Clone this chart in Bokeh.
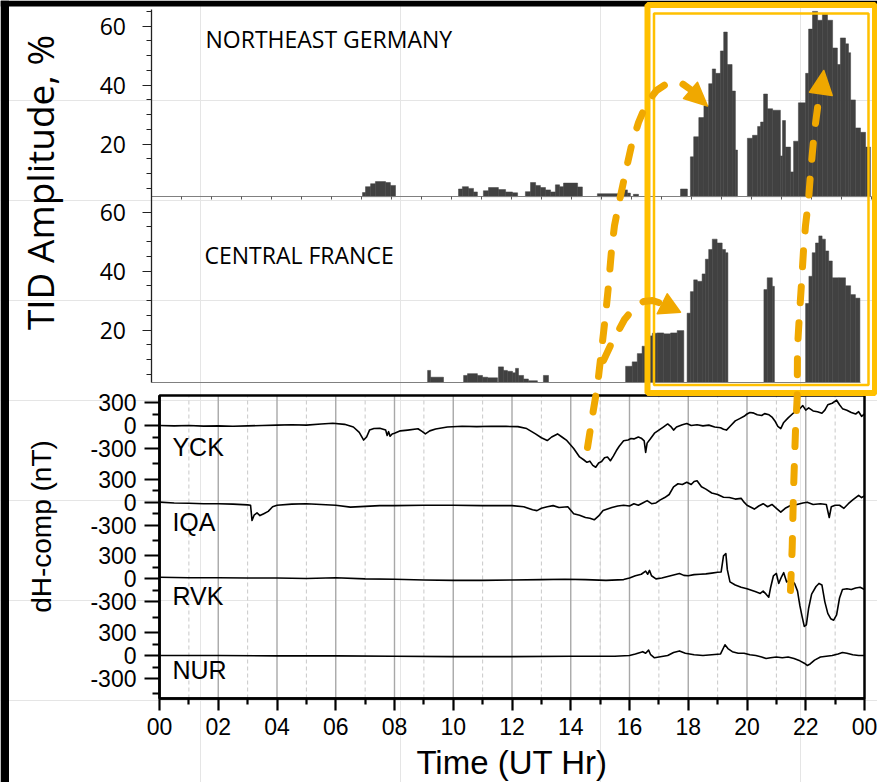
import numpy as np
from math import pi
from bokeh.plotting import figure
from bokeh.models import Range1d, LinearAxis, FixedTicker
from bokeh.embed import file_html
from bokeh.resources import INLINE
from bokeh.core.properties import value

# ---------------- data ----------------
STATIONS = ["YCK", "IQA", "RVK", "NUR"]
HOUR_TICKS = list(range(0, 25, 2))
HOUR_LABELS = ["00", "02", "04", "06", "08", "10", "12", "14", "16", "18", "20", "22", "00"]
TID_TICKS = [20, 40, 60]
TID_LABELS = ["20", "40", "60"]
DH_TICKS = [300, 0, -300]
DH_LABELS = ["300", "0", "-300"]
PANEL_TITLES = ["NORTHEAST GERMANY", "CENTRAL FRANCE"]

# TID amplitude (%) bars, Northeast Germany: start hour, end hour, value
GER_T0 = [7.05, 7.15, 7.32, 7.48, 7.82, 7.98,
          10.25, 10.38, 10.58, 10.75,
          11.08, 11.25, 11.58, 11.82, 12.05,
          12.48, 12.65, 12.82, 12.98, 13.15, 13.32, 13.48, 13.62, 13.75, 14.22,
          14.88, 15.72, 15.88, 16.08, 17.65,
          17.98, 18.09, 18.26, 18.43, 18.59, 18.71, 18.82, 18.98, 19.09, 19.21, 19.37, 19.48,
          19.88, 20.05, 20.22, 20.32, 20.42, 20.55, 20.72, 20.98, 21.05, 21.15, 21.32, 21.42,
          21.58, 21.82, 21.92, 22.05, 22.22, 22.38, 22.55, 22.72, 22.88, 22.98, 23.15, 23.25,
          23.32, 23.48, 23.65, 23.82]
GER_T1 = [7.15, 7.32, 7.48, 7.82, 7.98, 8.15,
          10.38, 10.58, 10.75, 10.88,
          11.25, 11.58, 11.82, 12.05, 12.22,
          12.65, 12.82, 12.98, 13.15, 13.32, 13.48, 13.62, 13.75, 14.22, 14.38,
          15.72, 15.88, 15.98, 16.25, 17.88,
          18.09, 18.26, 18.43, 18.59, 18.71, 18.82, 18.98, 19.09, 19.21, 19.37, 19.48, 19.55,
          20.05, 20.22, 20.32, 20.42, 20.55, 20.72, 20.98, 21.05, 21.15, 21.32, 21.42, 21.58,
          21.82, 21.92, 22.05, 22.22, 22.38, 22.55, 22.72, 22.88, 22.98, 23.15, 23.25, 23.32,
          23.48, 23.65, 23.82, 23.98]
GER_V = [3.6, 5.6, 6.6, 7.3, 7.0, 6.0,
         4.8, 5.6, 5.0, 3.8,
         4.2, 5.3, 4.6, 3.8, 3.5,
         3.9, 7.0, 6.0, 5.3, 4.5, 3.8, 6.2, 5.6, 6.8, 5.5,
         3.2, 4.5, 3.4, 3.0, 4.8,
         15.7, 22.5, 29, 33, 40.5, 45.5, 44, 51.6, 58, 47, 38, 18,
         22, 23, 26, 27.5, 37, 32, 31.5, 16, 28, 19, 10.6, 21,
         34, 44, 59, 65, 62, 64, 62, 52.6, 47, 56, 54, 51,
         35, 25.5, 24, 19]

# TID amplitude (%) bars, Central France
FRA_T0 = [9.22, 9.32, 10.42, 10.55, 10.88, 11.05, 11.22, 11.58, 11.75, 11.88, 12.05, 12.15,
          12.25, 12.42, 12.58, 13.08,
          15.82, 16.04, 16.21, 16.37, 16.54, 16.71, 16.87, 17.09, 17.32, 17.54,
          17.87, 17.98, 18.09, 18.21, 18.37, 18.48, 18.59, 18.71, 18.87, 19.04, 19.15,
          20.43, 20.54, 20.71,
          21.82, 21.93, 22.04, 22.15, 22.26, 22.37, 22.48, 22.59, 22.71, 22.93, 23.15, 23.32, 23.48]
FRA_T1 = [9.32, 9.75, 10.55, 10.88, 11.05, 11.22, 11.55, 11.75, 11.88, 12.05, 12.15, 12.25,
          12.42, 12.58, 12.88, 13.25,
          16.04, 16.21, 16.37, 16.54, 16.71, 16.87, 17.09, 17.32, 17.54, 17.76,
          17.98, 18.09, 18.21, 18.37, 18.48, 18.59, 18.71, 18.87, 19.04, 19.15, 19.23,
          20.54, 20.71, 20.78,
          21.93, 22.04, 22.15, 22.26, 22.37, 22.48, 22.59, 22.71, 22.93, 23.15, 23.32, 23.48, 23.63]
FRA_V = [6.3, 4.0, 4.6, 5.2, 4.6, 4.0, 3.8, 7.5, 6.3, 6.0, 5.5, 7.0, 4.6, 3.4, 2.8, 4.6,
         7.7, 9.2, 12, 14.5, 18.0, 18.9, 19.0, 18.7, 19.0, 19.8,
         25.7, 33, 37, 36.5, 39, 44, 47.3, 50.8, 49.5, 47.3, 46.2,
         33.7, 37.7, 34.8,
         29, 38.2, 46.2, 49.5, 51.9, 50.8, 46.8, 43.4, 37.7, 37.7, 35, 32, 30.8]

# magnetometer dH (nT): hour, value
YCK_T = [0.0, 0.5, 1.0, 1.5, 2.0, 2.5, 3.0, 3.5, 4.0, 4.5, 5.0, 5.5, 5.9, 6.3, 6.6, 6.8, 6.95,
         7.05, 7.15, 7.3, 7.5, 7.7, 7.75, 7.8, 7.85, 7.92, 8.0, 8.2, 8.45, 8.8, 8.95, 9.05, 9.2,
         9.4, 9.8, 10.3, 10.8, 11.3, 11.8, 12.2, 12.5, 12.8, 13.0, 13.2, 13.35, 13.55, 13.7,
         13.85, 14.1, 14.3, 14.45, 14.55, 14.65, 14.75, 14.85, 14.95, 15.05, 15.15, 15.25,
         15.35, 15.45, 15.55, 15.65, 15.8, 15.95, 16.05, 16.15, 16.3, 16.4, 16.5, 16.55, 16.6,
         16.7, 16.85, 17.0, 17.15, 17.3, 17.4, 17.5, 17.6, 17.8, 17.95, 18.1, 18.3, 18.5, 18.7,
         18.9, 19.1, 19.2, 19.3, 19.45, 19.6, 19.75, 19.9, 20.0, 20.1, 20.2, 20.35, 20.5, 20.6,
         20.75, 20.85, 20.95, 21.05, 21.15, 21.25, 21.4, 21.6, 21.75, 21.9, 22.0, 22.1, 22.25,
         22.4, 22.55, 22.65, 22.75, 22.9, 23.05, 23.15, 23.25, 23.4, 23.55, 23.7, 23.8, 23.9, 24.0]
YCK_DH = [0, -5, 0, -8, -5, -10, -5, 0, 5, 10, 5, 20, 30, 15, -20, -90, -190,
          -150, -60, -40, -35, -60, -130, -80, -140, -110, -100, -70, -60, -43, -80, -110, -70,
          -45, -20, -10, -15, -10, -12, -15, -40, -110, -160, -196, -150, -110, -150,
          -190, -300, -410, -450, -480, -465, -520, -545, -490, -470, -420, -410,
          -460, -400, -330, -270, -200, -190, -170, -175, -150, -165, -200, -350, -230,
          -180, -100, -60, -20, 20, -10, -60, -20, 10, 25, 0, 10, -5, 5,
          -20, -30, -50, -60, 0, 60, 90, 120, 150, 170, 165, 140, 130, 155,
          140, 110, 60, -10, -40, 40, 100, 170, 200, 260, 200, 230, 190,
          180, 160, 200, 270, 290, 330, 270, 220, 200, 170, 150, 180, 120, 150]

IQA_T = [0.0, 0.5, 1.0, 1.5, 2.0, 2.5, 3.0, 3.1, 3.15, 3.22, 3.32, 3.42, 3.55, 3.7, 3.85, 4.0,
         4.5, 5.0, 5.5, 6.0, 6.5, 7.0, 7.5, 8.0, 9.0, 10.0, 11.0, 12.0, 12.4, 12.7, 12.85, 13.0,
         13.2, 13.4, 13.6, 13.9, 14.1, 14.3, 14.5, 14.65, 14.8, 14.95, 15.1, 15.25, 15.4, 15.6,
         15.8, 16.0, 16.15, 16.3, 16.45, 16.6, 16.75, 16.9, 17.05, 17.2, 17.35, 17.5, 17.65,
         17.8, 17.95, 18.1, 18.2, 18.3, 18.45, 18.6, 18.8, 19.0, 19.2, 19.4, 19.6, 19.8, 19.9,
         20.0, 20.1, 20.25, 20.4, 20.55, 20.7, 20.85, 21.0, 21.15, 21.3, 21.5, 21.7, 21.9,
         22.05, 22.25, 22.5, 22.7, 22.8, 22.87, 23.0, 23.15, 23.3, 23.45, 23.6, 23.7, 23.8,
         23.9, 24.0]
IQA_DH = [0, -10, -15, -20, -20, -25, -35, -40, -240, -170, -140, -175, -150, -120, -60, -40,
          -25, -20, -30, -40, -65, -55, -45, -45, -40, -40, -45, -45, -60, -100, -110, -80,
          -60, -45, -70, -60, -150, -170, -200, -210, -230, -180, -110, -90, -70, -50,
          -40, -50, -20, -40, -10, 20, -20, -10, 30, 60, 100, 200, 240,
          230, 260, 230, 270, 280, 200, 170, 120, 100, 65, 60, 40, 50, 0,
          -40, -60, -90, -50, -20, -60, -30, -80, -130, -80, -40, -30, -10,
          0, -30, -20, -30, -200, -60, -40, -40, -80, -20, 30, 60, 90,
          60, 80]

RVK_T = [0.0, 1.0, 2.0, 3.0, 4.0, 5.0, 6.0, 7.0, 8.0, 9.0, 10.0, 11.0, 12.0, 13.0, 13.8, 14.5,
         15.2, 15.8, 16.0, 16.2, 16.4, 16.55, 16.62, 16.68, 16.75, 16.9, 17.1, 17.3, 17.5, 17.7,
         17.85, 18.0, 18.2, 18.4, 18.6, 18.8, 19.0, 19.12, 19.2, 19.28, 19.33, 19.42, 19.6,
         19.8, 20.0, 20.15, 20.3, 20.45, 20.55, 20.65, 20.74, 20.8, 20.9, 21.0, 21.08, 21.18,
         21.25, 21.35, 21.5, 21.62, 21.72, 21.8, 21.88, 21.95, 22.02, 22.1, 22.2, 22.35, 22.45,
         22.55, 22.65, 22.75, 22.85, 22.95, 23.05, 23.15, 23.25, 23.4, 23.55, 23.7, 23.85, 24.0]
RVK_DH = [20, 15, 15, 10, 10, 5, 15, 0, -5, -15, -20, -20, -15, -10, -5, -10,
          -20, -10, 10, 40, 60, 100, 60, 110, 40, 0, 10, 30, 50, 70,
          45, 40, 55, 60, 65, 75, 85, 90, 300, 330, 120, -40, -80,
          -110, -130, -150, -170, -190, -160, -200, -240, -120, 40, 70, -60, 30,
          80, -40, -10, -60, -160, -350, -500, -620, -600, -380, -200, -100, -60,
          -80, -300, -450, -520, -540, -470, -250, -140, -130, -140, -120, -110, -140]

NUR_T = [0.0, 2.0, 4.0, 6.0, 8.0, 10.0, 12.0, 14.0, 15.5, 16.0, 16.2, 16.45, 16.55, 16.65,
         16.72, 16.85, 17.0, 17.3, 17.5, 17.7, 17.9, 18.2, 18.5, 18.8, 19.1, 19.25, 19.35, 19.5,
         19.7, 19.9, 20.1, 20.3, 20.5, 20.65, 20.8, 21.0, 21.2, 21.4, 21.6, 21.8, 21.95, 22.05,
         22.15, 22.3, 22.5, 22.7, 22.9, 23.1, 23.25, 23.4, 23.6, 23.8, 24.0]
NUR_DH = [0, 0, -5, -5, -10, -15, -15, -10, -10, 0, 20, 50, 30, 70,
          10, -30, -20, 0, 40, 60, 30, 10, 0, 10, 20, 140, 90, 50,
          30, 30, 10, 0, -20, -40, -30, -20, -30, -20, -40, -70, -100, -130,
          -110, -60, -20, -10, 0, 20, 40, 30, 10, 0, 0]

# ---------------- layout constants (pixels of the 877 x 782 page) ----------------
W, H = 877, 782
A_X0, A_PPH = 150.5, 30.0          # TID panels: x of 00 UT, px per hour
C_X0, C_PPH = 159.0, 29.375        # magnetometer panel
TID_Y0, TID_PPU = 388.5, 2.95      # y of 0 % (France), px per %
TID_OFF = 63                       # Germany panel stacked above France
TID_BASE = 2.2
DH_Y0, DH_PPN = 425.0, 230.0 / 3000.0   # y of YCK zero, px per nT
DH_STEP = -1000
C_TOP, C_BOT = (DH_Y0 - 395) / DH_PPN, (DH_Y0 - 698) / DH_PPN
BL = 0.42                          # baseline correction (fraction of font size)

BAR = "#414141"
GOLD = "#FFC000"
ORANGE = "#F0A800"

p = figure(width=W, height=H, x_range=Range1d(0, W), y_range=Range1d(H, 0),
           output_backend="svg", toolbar_location=None,
           x_axis_location=None, y_axis_location=None,
           min_border=0, min_border_left=0, min_border_right=0,
           min_border_top=0, min_border_bottom=0,
           outline_line_color=None, background_fill_color="white",
           border_fill_color="white")
p.extra_x_ranges = {
    "hA": Range1d(-A_X0 / A_PPH, (W - A_X0) / A_PPH),
    "hC": Range1d(-C_X0 / C_PPH, (W - C_X0) / C_PPH),
}
p.extra_y_ranges = {
    "tid": Range1d((TID_Y0 - H) / TID_PPU, TID_Y0 / TID_PPU),
    "dh": Range1d((DH_Y0 - H) / DH_PPN, DH_Y0 / DH_PPN),
}

# page frame strips (black border of the slide) and background fragment at right edge
p.quad(left=[0, 0], right=[W, 8.5], top=[0, 0], bottom=[6, H],
       fill_color="black", line_color=None)
p.circle(x=[884], y=[243.5], radius=10, fill_color="#A57B14", line_color=None)

# ---------------- magnetometer panel ----------------
odd_h = list(range(1, 24, 2))
even_h = list(range(2, 23, 2))
p.segment(x0=odd_h, x1=odd_h, y0=C_BOT, y1=C_TOP, x_range_name="hC", y_range_name="dh",
          line_color="#c8c8c8", line_width=1, line_dash="4 3")
p.segment(x0=even_h, x1=even_h, y0=C_BOT, y1=C_TOP, x_range_name="hC", y_range_name="dh",
          line_color="#a8a8a8", line_width=1.4)

traces = [(YCK_T, YCK_DH), (IQA_T, IQA_DH), (RVK_T, RVK_DH), (NUR_T, NUR_DH)]
for k, (t, dh) in enumerate(traces):
    p.line(x=t, y=np.array(dh) + k * DH_STEP, x_range_name="hC", y_range_name="dh",
           line_color="black", line_width=1.6, line_join="round")

p.quad(left=[0], right=[24], bottom=[C_BOT], top=[C_TOP], x_range_name="hC", y_range_name="dh",
       fill_color=None, line_color="black", line_width=2.5)

st_fs = 25
lab_px = [457, 532, 606, 680]
lab_y = [(DH_Y0 - (y - BL * st_fs)) / DH_PPN for y in lab_px]
p.text(x=[0.44] * 4, y=lab_y, text=STATIONS, x_range_name="hC", y_range_name="dh",
       text_font=value("Liberation Sans"), text_font_size=f"{st_fs}px", text_color="black",
       text_baseline="alphabetic", text_align="left")

dh_major, dh_labels, dh_minor = [], {}, []
for k in range(4):
    for t, lab in zip(DH_TICKS, DH_LABELS):
        dh_major.append(t + k * DH_STEP)
        dh_labels[t + k * DH_STEP] = lab
    dh_minor += [m + k * DH_STEP for m in (150, -150, -500)]

cy = LinearAxis(x_range_name="hC", y_range_name="dh", fixed_location=0,
                bounds=(C_BOT, C_TOP),
                ticker=FixedTicker(ticks=dh_major, minor_ticks=dh_minor),
                major_label_overrides=dh_labels)
cx = LinearAxis(x_range_name="hC", y_range_name="dh", fixed_location=C_BOT,
                bounds=(0, 24),
                ticker=FixedTicker(ticks=HOUR_TICKS, minor_ticks=odd_h),
                major_label_overrides=dict(zip(HOUR_TICKS, HOUR_LABELS)))
for ax, tout, mout, so, fs in ((cy, 15, 7, 8, "23px"), (cx, 12, 6, 7, "23px")):
    ax.axis_line_width = 2.5
    ax.axis_line_color = "black"
    ax.major_tick_line_width = 2.2
    ax.minor_tick_line_width = 2.2
    ax.major_tick_out = tout
    ax.minor_tick_out = mout
    ax.major_tick_in = 0
    ax.minor_tick_in = 0
    ax.major_label_standoff = so
    ax.major_label_text_font = "Liberation Sans"
    ax.major_label_text_font_size = fs
    ax.major_label_text_color = "black"
p.add_layout(cy, "left")
p.add_layout(cx, "below")

t_fs = 33
p.text(x=[C_X0 + C_PPH * 12], y=[776 - BL * t_fs], text=["Time (UT Hr)"],
       text_font=value("Liberation Sans"), text_font_size=f"{t_fs}px", text_color="black",
       text_align="center", text_baseline="alphabetic")
d_fs = 28
p.text(x=[53 - BL * d_fs], y=[526], text=["dH-comp (nT)"], angle=pi / 2,
       text_font=value("Liberation Sans"), text_font_size=f"{d_fs}px", text_color="black",
       text_align="center", text_baseline="alphabetic")

# ---------------- TID panels ----------------
p.quad(left=GER_T0, right=GER_T1, bottom=TID_BASE + TID_OFF, top=np.array(GER_V) + TID_OFF,
       x_range_name="hA", y_range_name="tid", fill_color=BAR, line_color=BAR, line_width=0.5)
p.quad(left=FRA_T0, right=FRA_T1, bottom=TID_BASE, top=np.array(FRA_V, dtype=float),
       x_range_name="hA", y_range_name="tid", fill_color=BAR, line_color=BAR, line_width=0.5)

tid_major = [t + TID_OFF for t in TID_TICKS] + TID_TICKS
tid_labels = {t + TID_OFF: s for t, s in zip(TID_TICKS, TID_LABELS)}
tid_labels.update({t: s for t, s in zip(TID_TICKS, TID_LABELS)})
tid_minor = [m + TID_OFF for m in range(5, 66, 5)] + list(range(5, 61, 5))
ty = LinearAxis(x_range_name="hA", y_range_name="tid", fixed_location=0,
                bounds=(TID_BASE, 65.6 + TID_OFF),
                ticker=FixedTicker(ticks=tid_major, minor_ticks=tid_minor),
                major_label_overrides=tid_labels,
                axis_line_color="#222222", axis_line_width=1.3,
                major_tick_line_color="#222222", minor_tick_line_color="#222222",
                major_tick_out=9, major_tick_in=0, minor_tick_out=5, minor_tick_in=0,
                major_label_standoff=16, major_label_text_font="Open Sans",
                major_label_text_font_size="23px", major_label_text_color="black")
p.add_layout(ty, "left")

hours = list(range(25))
ax_a = LinearAxis(x_range_name="hA", y_range_name="tid", fixed_location=TID_BASE + TID_OFF,
                  bounds=(0, 24), ticker=FixedTicker(ticks=hours, minor_ticks=[]),
                  major_label_overrides={h: "" for h in hours},
                  major_label_text_font_size="0px", major_label_standoff=0,
                  axis_line_color="#808080", axis_line_width=1,
                  major_tick_line_color="#555555", major_tick_out=3, major_tick_in=0)
ax_b = LinearAxis(x_range_name="hA", y_range_name="tid", fixed_location=TID_BASE,
                  bounds=(0, 23.65), ticker=FixedTicker(ticks=[], minor_ticks=[]),
                  major_label_text_font_size="0px", major_label_standoff=0,
                  axis_line_color="#808080", axis_line_width=1,
                  major_tick_out=0, major_tick_in=0)
p.add_layout(ax_a, "below")
p.add_layout(ax_b, "below")

pt_fs = 23
p.text(x=[(205 - A_X0) / A_PPH, (204 - A_X0) / A_PPH],
       y=[(TID_Y0 - (48 - BL * pt_fs)) / TID_PPU, (TID_Y0 - (264 - BL * pt_fs)) / TID_PPU],
       text=PANEL_TITLES, x_range_name="hA", y_range_name="tid",
       text_font=value("Open Sans"), text_font_size=f"{pt_fs}px", text_color="black",
       text_baseline="alphabetic", text_align="left")
a_fs = 37
p.text(x=[55 - BL * a_fs], y=[182], text=["TID Amplitude, %"], angle=pi / 2,
       text_font=value("Open Sans"), text_font_size=f"{a_fs}px", text_color="black",
       text_align="center", text_baseline="alphabetic")

# ---------------- highlight overlay (page pixels) ----------------
p.quad(left=[647], right=[874.5], top=[4.5], bottom=[392.5], fill_color=None,
       line_color=GOLD, line_width=6, level="overlay")
p.quad(left=[653.5], right=[868], top=[13], bottom=[384.5], fill_color=None,
       line_color=GOLD, line_width=2.5, level="overlay")

ARROW1_X = [587, 592, 597, 601, 605, 608, 611, 614, 618, 625, 631, 638, 646, 656, 668, 680, 690]
ARROW1_Y = [447, 415, 385, 350, 315, 285, 250, 225, 205, 172, 145, 122, 103, 90, 82, 82, 89]
ARROW2_X = [603, 610, 617, 624, 633, 643, 652, 661]
ARROW2_Y = [360, 345, 332, 319, 308, 301, 300, 303]
ARROW3_X = [790, 791.7, 793, 795, 796.7, 797, 799, 801, 803, 805, 808, 810, 813, 815, 818]
ARROW3_Y = [590, 547, 490, 430, 397, 347, 313, 283, 250, 225, 200, 173, 140, 123, 100]
for ax_, ay_ in ((ARROW1_X, ARROW1_Y), (ARROW2_X, ARROW2_Y), (ARROW3_X, ARROW3_Y)):
    p.line(x=ax_, y=ay_, line_color=ORANGE, line_width=7, line_dash="16 20",
           line_cap="round", line_join="round", level="overlay")
HEADS_X = [[683, 697, 707], [656.7, 666.7, 680], [809, 823.3, 831.7]]
HEADS_Y = [[98, 81.7, 105.5], [313.3, 293.3, 311.7], [91.7, 70, 95]]
p.patches(xs=HEADS_X, ys=HEADS_Y, fill_color=ORANGE, line_color=ORANGE, line_width=1.5,
          line_join="round", level="overlay")

open("out.html", "w").write(file_html(p, INLINE))
